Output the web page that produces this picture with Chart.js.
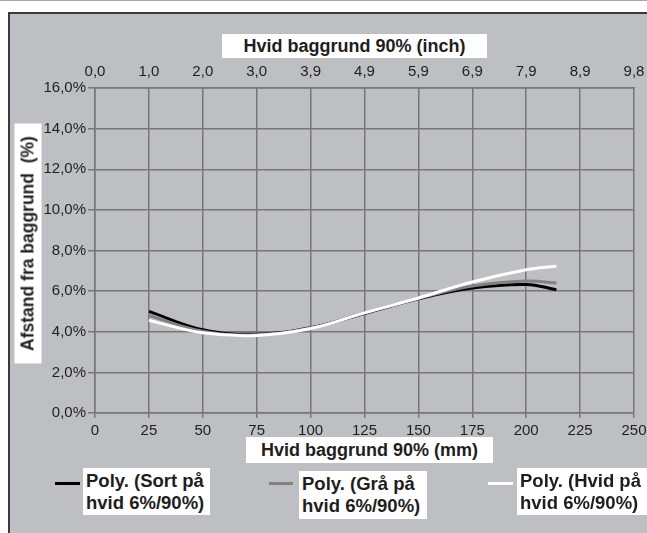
<!DOCTYPE html>
<html>
<head>
<meta charset="utf-8">
<script src="https://cdn.jsdelivr.net/npm/chart.js@4/dist/chart.umd.min.js"></script>
<style>
  html, body { margin: 0; padding: 0; background: #fff; }
  body { width: 647px; height: 533px; position: relative; overflow: hidden;
         font-family: "Liberation Sans", Arial, Helvetica, sans-serif; color: #1e1e1e; }
  #topline { position: absolute; left: 0; top: 0; width: 647px; height: 1px; background: #a8a8a8; }
  #frame { position: absolute; left: 8px; top: 12px; width: 637px; height: 519px;
           border-left: 2px solid #3a3a3a; border-top: 2px solid #3a3a3a; background: #bebfc3; }
  #chart { position: absolute; left: 0; top: 0; }
  .box { position: absolute; background: #fff; font-weight: bold; white-space: pre; }
  .ttl { font-size: 18px; line-height: 24px; text-align: center; }
  .leg { font-size: 18.5px; line-height: 22px; padding: 2px 0 0 3px; box-sizing: border-box; overflow: hidden; }
  .swatch { position: absolute; height: 3px; }
</style>
</head>
<body>
<div id="topline"></div>
<div id="frame"></div>
<canvas id="chart" width="647" height="533"></canvas>
<div class="box ttl" style="left:222px;top:34px;width:265px;height:24px;">Hvid baggrund 90% (inch)</div>
<div class="box ttl" style="left:246px;top:437px;width:247px;height:26px;line-height:26px;">Hvid baggrund 90% (mm)</div>
<div class="box ttl" style="left:-92px;top:230px;width:240px;height:27px;line-height:27px;font-size:17.5px;transform:rotate(-90deg);">Afstand fra baggrund  (%)</div>
<div id="legend"></div>
<script>
// distance in mm (bottom axis)
const xs = [25, 50, 75, 100, 125, 150, 175, 200, 214];

// percent values
const sortValues = [5.0, 4.1, 3.88, 4.2, 4.9, 5.62, 6.15, 6.33, 6.07];
const graaValues = [4.8, 4.02, 3.85, 4.18, 4.92, 5.64, 6.25, 6.5, 6.4];
const hvidValues = [4.56, 3.95, 3.82, 4.16, 4.93, 5.66, 6.45, 7.05, 7.23];

const seriesNames = ["Poly. (Sort på\nhvid 6%/90%)", "Poly. (Grå på\nhvid 6%/90%)", "Poly. (Hvid på\nhvid 6%/90%)"];
const seriesColors = ["#000000", "#828282", "#ffffff"];

// top axis labels (mm converted to inch)
const inchLabels = ["0,0", "1,0", "2,0", "3,0", "3,9", "4,9", "5,9", "6,9", "7,9", "8,9", "9,8"];

const gridColor = "#777777";
const tickFont = { family: "'Liberation Sans', Arial, sans-serif", size: 15 };

function toPoints(values) {
  return values.map((v, i) => ({ x: xs[i], y: v }));
}

// keep the plot edges where the reference has them
function fitX(height) {
  return (s) => {
    s.height = height;
    s.paddingLeft = 0;
    s.paddingRight = 0;
  };
}

const datasets = [sortValues, graaValues, hvidValues].map((vals, i) => ({
  label: seriesNames[i],
  data: toPoints(vals),
  borderColor: seriesColors[i],
  borderWidth: 3,
  pointRadius: 0,
  tension: 0.4,
  fill: false,
  order: 3 - i, // white curve on top
}));

new Chart(document.getElementById("chart"), {
  type: "line",
  data: { datasets },
  options: {
    responsive: false,
    animation: false,
    layout: { padding: { left: 0, right: 13, top: 0, bottom: 0 } },
    plugins: { legend: { display: false }, tooltip: { enabled: false } },
    scales: {
      x: {
        type: "linear",
        position: "bottom",
        min: 0,
        max: 250,
        afterFit: fitX(120),
        ticks: { stepSize: 25, color: "#1e1e1e", font: tickFont, padding: 4, maxRotation: 0 },
        grid: { color: gridColor, lineWidth: 1.5, tickLength: 5, tickColor: gridColor },
        border: { color: gridColor, width: 1.5 },
      },
      x2: {
        type: "linear",
        position: "top",
        min: 0,
        max: 250,
        afterFit: fitX(88),
        ticks: {
          stepSize: 25,
          color: "#1e1e1e",
          font: tickFont,
          padding: 7,
          maxRotation: 0,
          callback: (v, i) => inchLabels[i],
        },
        grid: { drawOnChartArea: false, drawTicks: false },
        border: { color: gridColor, width: 1.5 },
      },
      y: {
        min: 0,
        max: 16,
        afterFit: (s) => { s.width = 95; s.paddingTop = 0; s.paddingBottom = 0; },
        ticks: {
          stepSize: 2,
          color: "#1e1e1e",
          font: tickFont,
          padding: 2,
          callback: (v) => v.toFixed(1).replace(".", ",") + "%",
        },
        grid: { color: gridColor, lineWidth: 1.5, tickLength: 7, tickColor: gridColor },
        border: { color: gridColor, width: 1.5 },
      },
    },
  },
});

// legend as html boxes
const legendBoxes = [
  { line: [55, 482, 25], box: [83, 468, 127, 47] },
  { line: [269, 482, 24], box: [299, 471, 128, 48] },
  { line: [488, 482, 25], box: [517, 468, 130, 47] },
];
const legend = document.getElementById("legend");
legendBoxes.forEach((p, i) => {
  const sw = document.createElement("div");
  sw.className = "swatch";
  sw.style.cssText = `left:${p.line[0]}px;top:${p.line[1]}px;width:${p.line[2]}px;background:${seriesColors[i]};`;
  legend.appendChild(sw);
  const b = document.createElement("div");
  b.className = "box leg";
  b.style.cssText = `left:${p.box[0]}px;top:${p.box[1]}px;width:${p.box[2]}px;height:${p.box[3]}px;`;
  b.textContent = seriesNames[i];
  legend.appendChild(b);
});
</script>
</body>
</html>
